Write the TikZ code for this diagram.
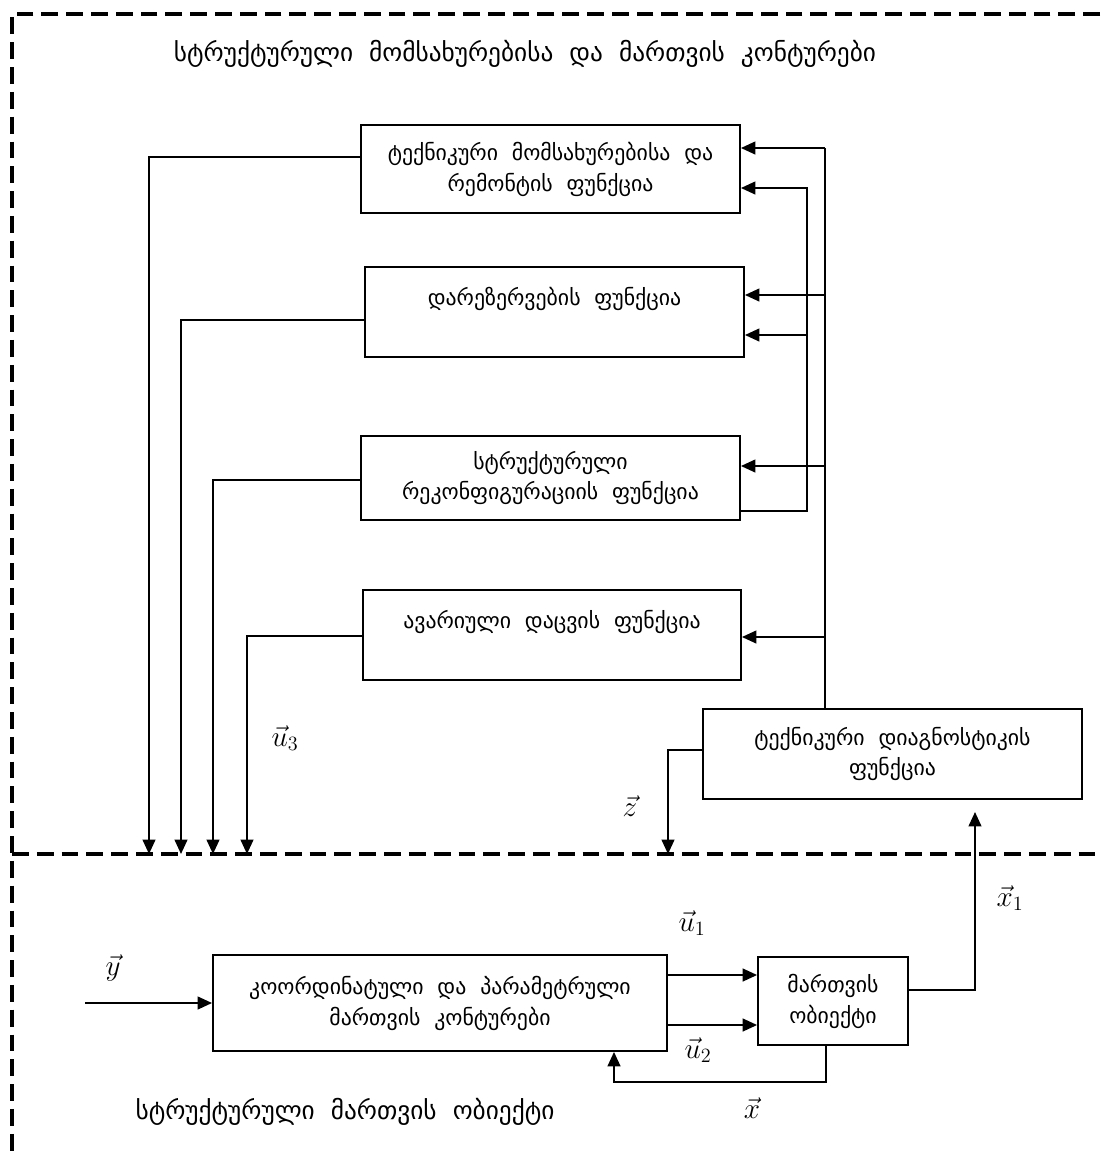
\documentclass[tikz,border=0pt]{standalone}
\usepackage{fontspec}
\setmainfont{DejaVu Sans}[WordSpace=2]
\usetikzlibrary{arrows.meta}

\begin{document}
\begin{tikzpicture}[x=0.025cm, y=-0.025cm]
    % ==========================
    % 設定
    % ==========================
    \def\ymid{854} % 中央の点線の高さ
    \tikzset{
        box/.style={draw, line width=1.3pt, align=center, inner sep=0pt,
            font=\fontsize{15.5}{22}\selectfont}, % ブロックのスタイル
        wire/.style={line width=1.3pt}, % 線
        arr/.style={wire, -{Triangle[length=0.36cm, width=0.32cm]}}, % 矢印
        frameline/.style={line width=2.2pt, dash pattern=on 0.42cm off 0.2cm}, % 点線の枠
        title/.style={font=\fontsize{18}{22}\selectfont}, % 見出し
        vlabel/.style={font=\fontsize{20}{24}\selectfont} % ベクトルのラベル
    }

    \useasboundingbox (0,0) rectangle (1100,1152);

    % ==========================
    % 1. 点線の枠
    % ==========================
    \coordinate (fTR) at (1100,14);
    \coordinate (fTL) at (12,14);
    \coordinate (fBL) at (12,1152);
    \coordinate (mL) at (12,\ymid);
    \coordinate (mR) at (1100,\ymid);
    \draw[frameline] (fTR) -- (fTL) -- (fBL);
    \draw[frameline] (mL) -- (mR);

    \node[title] (topTitle) at (525,54) {სტრუქტურული მომსახურებისა და მართვის კონტურები};
    \node[title] (botTitle) at (345,1112) {სტრუქტურული მართვის ობიექტი};

    % ==========================
    % 2. 上のブロック
    % ==========================
    \node[box, minimum width=9.475cm, minimum height=2.2cm] (maint) at (550.5,169)
        {ტექნიკური მომსახურებისა და\\რემონტის ფუნქცია};
    \node[box, minimum width=9.475cm, minimum height=2.25cm] (reserve) at (554.5,312)
        {დარეზერვების ფუნქცია\\ \mbox{}};
    \node[box, minimum width=9.475cm, minimum height=2.1cm] (reconf) at (550.5,478)
        {სტრუქტურული\\რეკონფიგურაციის ფუნქცია};
    \node[box, minimum width=9.45cm, minimum height=2.25cm] (protect) at (552,635)
        {ავარიული დაცვის ფუნქცია\\ \mbox{}};
    \node[box, minimum width=9.475cm, minimum height=2.25cm] (diag) at (892.5,754)
        {ტექნიკური დიაგნოსტიკის\\ფუნქცია};

    % 左側: 点線へ下りる線
    \coordinate (l1) at (149,157);
    \coordinate (l2) at (181,320);
    \coordinate (l3) at (213,480);
    \coordinate (l4) at (247,636);
    \draw[arr] (l1 -| maint.west) -- (l1) -- (l1 |- mL);
    \draw[arr] (l2 -| reserve.west) -- (l2) -- (l2 |- mL);
    \draw[arr] (l3 -| reconf.west) -- (l3) -- (l3 |- mL);
    \draw[arr] (l4 -| protect.west) -- (l4) -- (l4 |- mL);
    \node[vlabel] (u3) at (285,738) {$\vec{u}_3$};

    % 右側: 診断からの線 (外側)
    \coordinate (o1) at (825,148);
    \coordinate (o2) at (825,295);
    \coordinate (o3) at (825,466);
    \coordinate (o4) at (825,637);
    \draw[wire] (diag.north -| o1) -- (o1);
    \draw[arr] (o1) -- (o1 -| maint.east);
    \draw[arr] (o2) -- (o2 -| reserve.east);
    \draw[arr] (o3) -- (o3 -| reconf.east);
    \draw[arr] (o4) -- (o4 -| protect.east);

    % 右側: 再構成からの線 (内側)
    \coordinate (i0) at (807,511);
    \coordinate (i1) at (807,188);
    \coordinate (i2) at (807,335);
    \draw[arr] (i0 -| reconf.east) -- (i0) -- (i1) -- (i1 -| maint.east);
    \draw[arr] (i2) -- (i2 -| reserve.east);

    % 診断 -> 点線
    \coordinate (zc) at (668,750);
    \draw[arr] (zc -| diag.west) -- (zc) -- (zc |- mL);
    \node[vlabel] (zlab) at (630,806) {$\vec{z}$};

    % ==========================
    % 3. 下のブロック
    % ==========================
    \node[box, minimum width=11.35cm, minimum height=2.4cm] (coord) at (440,1003)
        {კოორდინატული და პარამეტრული\\მართვის კონტურები};
    \node[box, minimum width=3.75cm, minimum height=2.2cm] (plant) at (833,1001)
        {მართვის\\ობიექტი};

    % 入力 y
    \coordinate (yin) at (85,1003);
    \draw[arr] (yin) -- (coord.west);
    \node[vlabel] (ylab) at (113,968) {$\vec{y}$};

    % u1, u2
    \coordinate (c1) at (700,975);
    \coordinate (c2) at (700,1025);
    \draw[arr] (c1 -| coord.east) -- (c1 -| plant.west);
    \draw[arr] (c2 -| coord.east) -- (c2 -| plant.west);
    \node[vlabel] (u1) at (692,923) {$\vec{u}_1$};
    \node[vlabel] (u2) at (698,1050) {$\vec{u}_2$};

    % フィードバック x
    \coordinate (fb1) at (826,1082);
    \coordinate (fb2) at (614,1082);
    \draw[arr] (plant.south -| fb1) -- (fb1) -- (fb2) -- (fb2 |- coord.south);
    \node[vlabel] (xlab) at (752,1108) {$\vec{x}$};

    % x1 -> 診断
    \coordinate (xc) at (975,990);
    \coordinate (xt) at (975,812);
    \draw[arr] (xc -| plant.east) -- (xc) -- (xt);
    \node[vlabel] (x1) at (1010,898) {$\vec{x}_1$};

\end{tikzpicture}
\end{document}
